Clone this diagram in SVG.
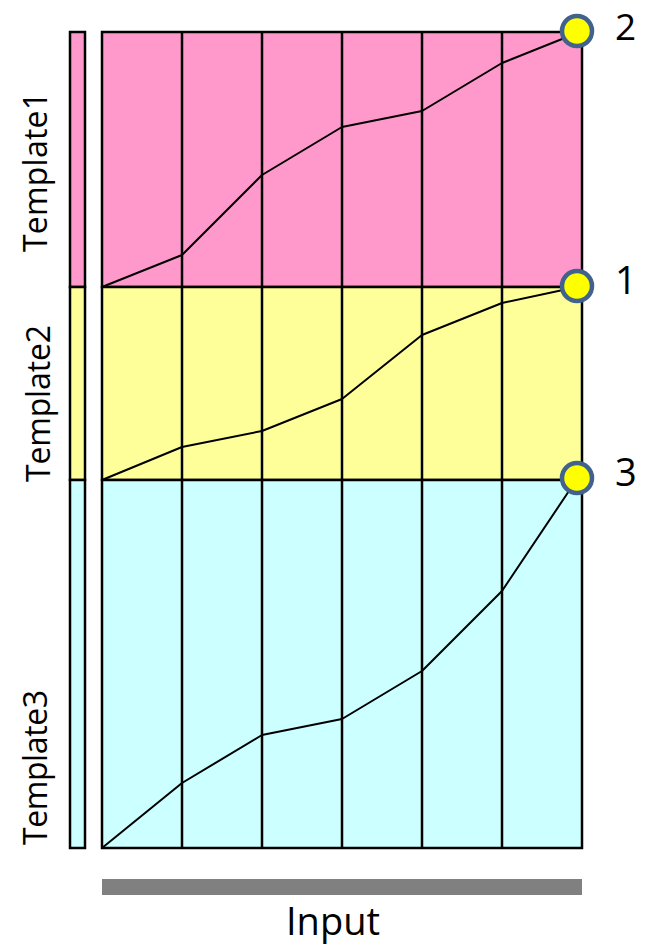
<svg xmlns="http://www.w3.org/2000/svg" width="645" height="947" viewBox="0 0 645 947">
<style>
.cell{stroke:#000;stroke-width:2.5}
.grid{stroke:#000;stroke-width:2.5;fill:none}
.curve{stroke:#000;stroke-width:2;fill:none;stroke-linejoin:round}
.dot{fill:#FFFF00;stroke:#41628C;stroke-width:4.5}
.lbl{font-family:"Open Sans","DejaVu Sans",sans-serif;fill:#000}
.pink{fill:#FF99CC}.yellow{fill:#FFFF99}.cyan{fill:#CCFFFF}
</style>
<rect width="645" height="947" fill="#fff"/>
<g id="template1">
<rect class="cell pink" x="70" y="32" width="15" height="255"/>
<rect class="cell pink" x="102" y="32" width="480" height="255"/>
<text class="lbl" font-size="32" transform="translate(47,252) rotate(-90)" textLength="160" lengthAdjust="spacing">Template1</text>
</g>
<g id="template2">
<rect class="cell yellow" x="70" y="287" width="15" height="193"/>
<rect class="cell yellow" x="102" y="287" width="480" height="193"/>
<text class="lbl" font-size="32" transform="translate(50,482) rotate(-90)" textLength="157" lengthAdjust="spacing">Template2</text>
</g>
<g id="template3">
<rect class="cell cyan" x="70" y="480" width="15" height="368"/>
<rect class="cell cyan" x="102" y="480" width="480" height="368"/>
<text class="lbl" font-size="32" transform="translate(47,845) rotate(-90)" textLength="155" lengthAdjust="spacing">Template3</text>
</g>
<g id="grid">
<path class="grid" d="M182 32V848M262 32V848M342 32V848M422 32V848M502 32V848"/>
</g>
<g id="connectors">
<polyline class="curve" points="102,287 182,255 262,175 342,127 422,111 502,63 577,33"/>
<polyline class="curve" points="102,480 182,447 262,431 342,399 422,335 502,303 577,287"/>
<polyline class="curve" points="102,848 182,783 262,735 342,719 422,671 502,591 577,479"/>
</g>
<g id="end2">
<circle class="dot" cx="577" cy="31" r="15"/>
<text class="lbl" font-size="37" x="615" y="40">2</text>
</g>
<g id="end1">
<circle class="dot" cx="577" cy="286" r="15"/>
<text class="lbl" font-size="38" x="615" y="294">1</text>
</g>
<g id="end3">
<circle class="dot" cx="577" cy="478" r="15"/>
<text class="lbl" font-size="38" x="615" y="486">3</text>
</g>
<g id="input">
<rect x="102" y="879" width="480" height="16" fill="#808080"/>
<text class="lbl" font-size="38" x="333" y="935" text-anchor="middle">Input</text>
</g>
</svg>
